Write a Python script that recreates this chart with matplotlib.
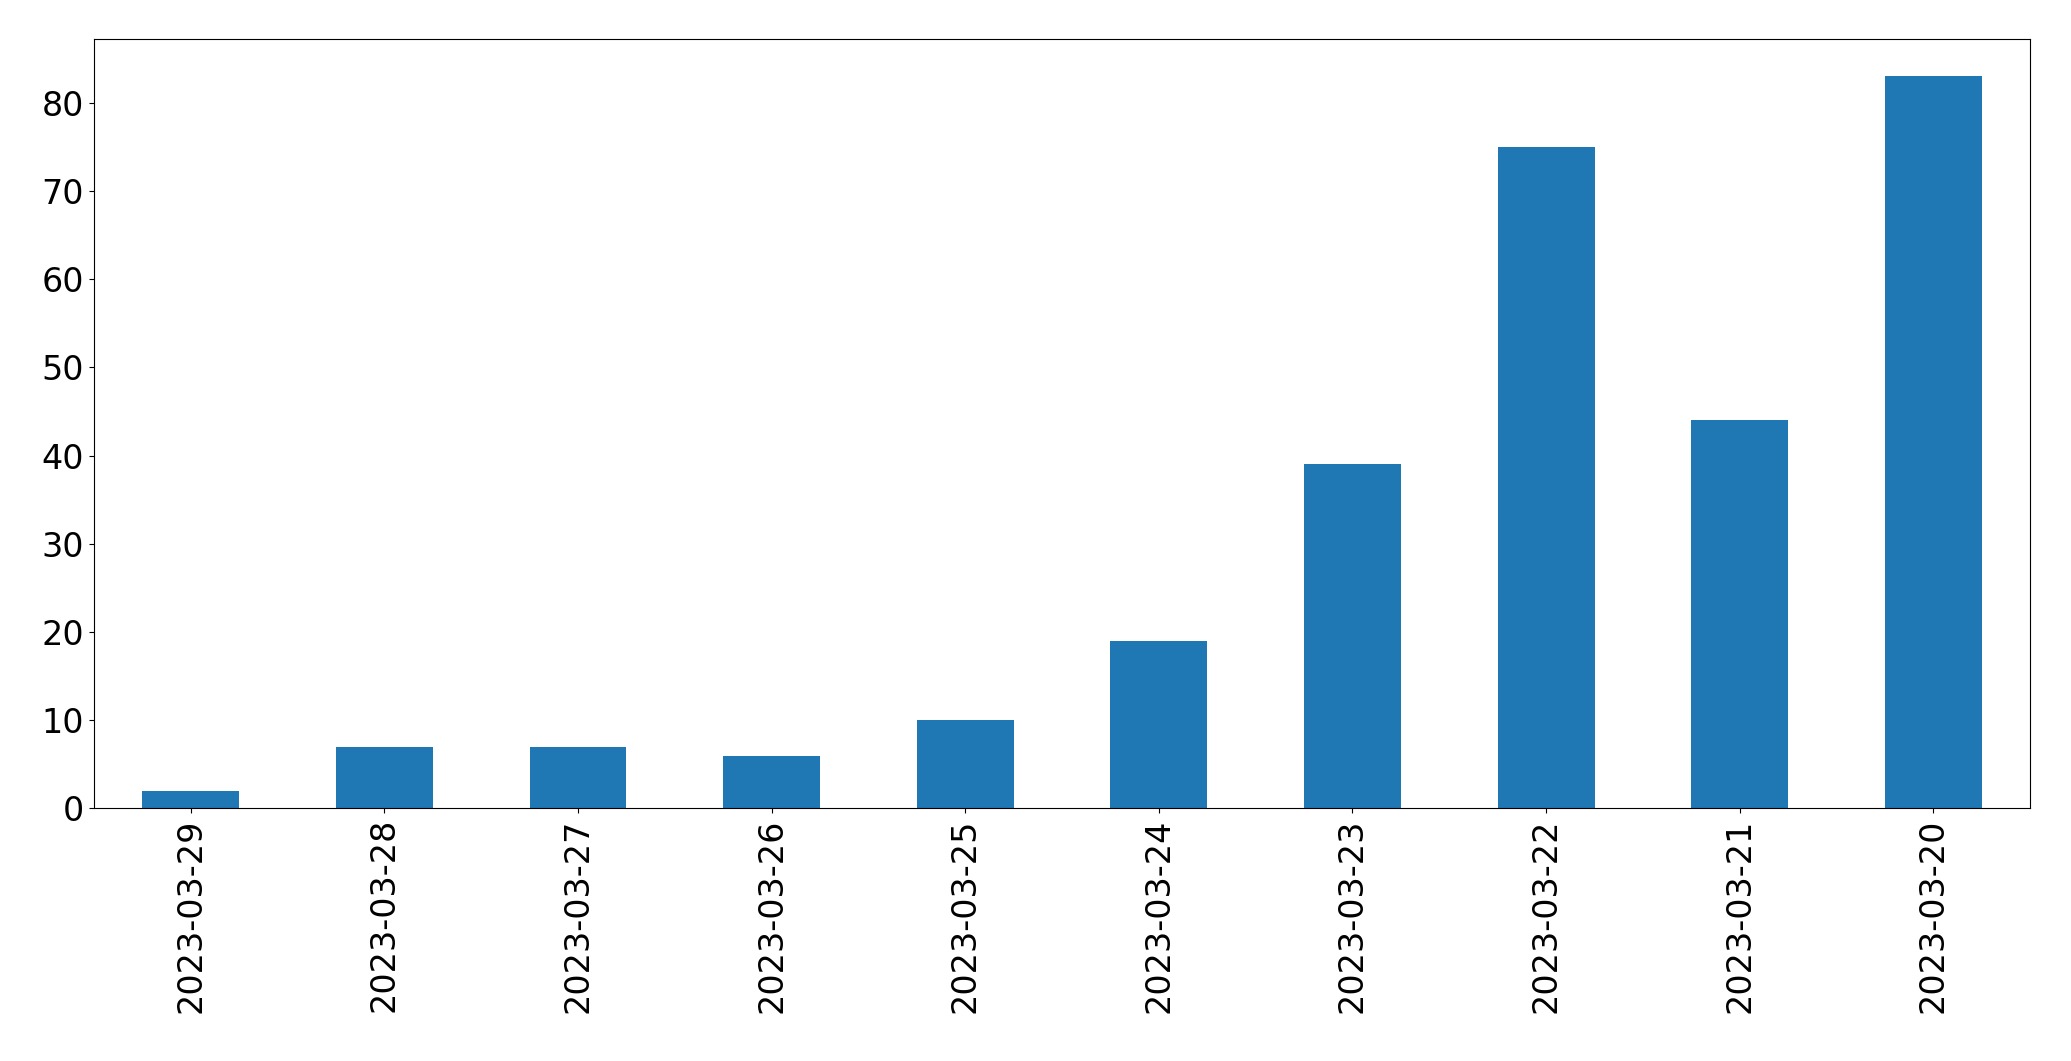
import matplotlib
matplotlib.use("Agg")
import matplotlib.pyplot as plt

dates = ["2023-03-29","2023-03-28","2023-03-27","2023-03-26","2023-03-25",
         "2023-03-24","2023-03-23","2023-03-22","2023-03-21","2023-03-20"]
counts = [2, 7, 7, 6, 10, 19, 39, 75, 44, 83]

fig = plt.figure(figsize=(20.71, 10.61), dpi=100)
ax = fig.add_axes([0.0453, 0.238, 0.935, 0.725])
x = range(len(dates))
ax.bar(x, counts, width=0.5, color="#1f77b4")
ax.set_xlim(-0.5, len(dates) - 0.5)
ax.set_ylim(0, 87.2)
ax.set_xticks(list(x))
ax.set_xticklabels(dates, rotation=90)
ax.tick_params(labelsize=24)
fig.savefig("out.png", dpi=100)
